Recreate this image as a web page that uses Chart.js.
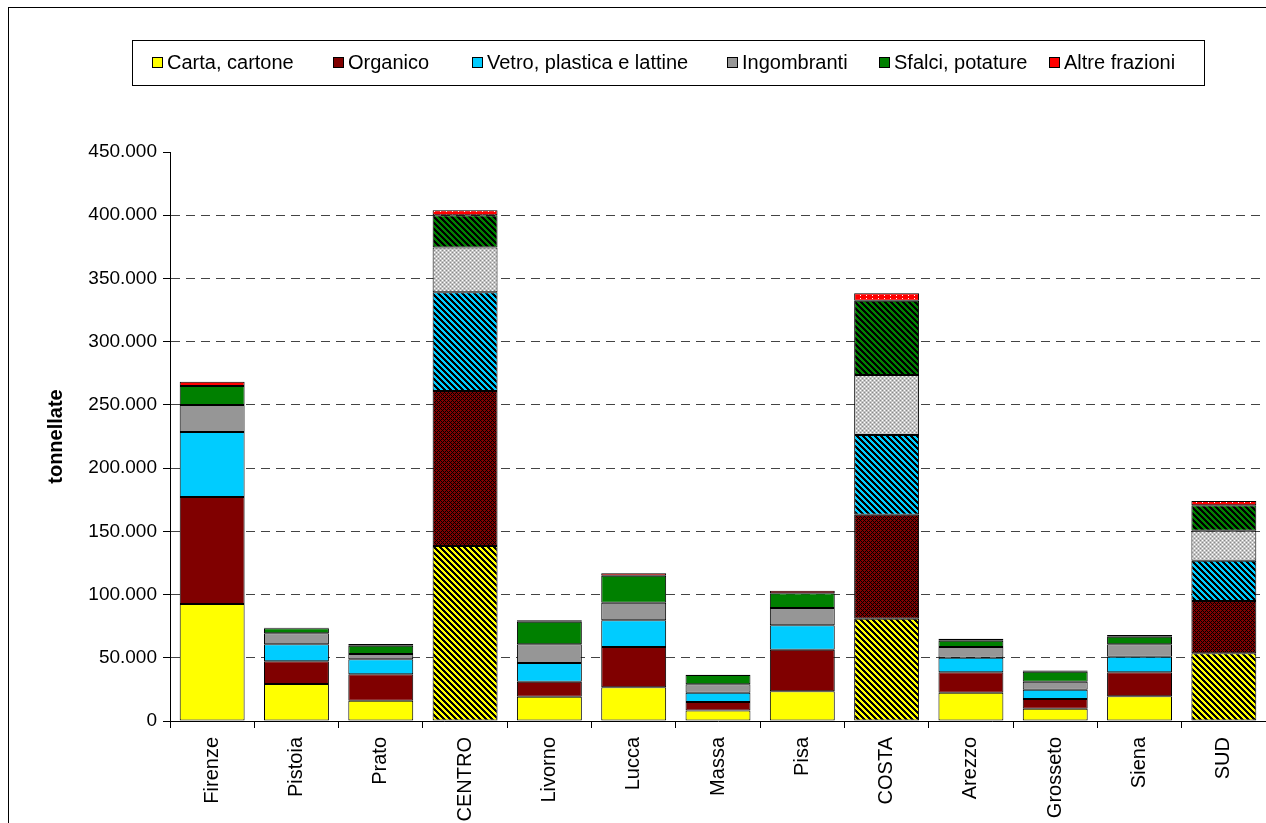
<!DOCTYPE html>
<html><head><meta charset="utf-8">
<script src="https://cdn.jsdelivr.net/npm/chart.js@4.4.0/dist/chart.umd.min.js"></script>
<style>html,body{margin:0;padding:0;background:#fff;overflow:hidden}</style>
</head><body>
<canvas id="c" width="1266" height="823"></canvas>
<script>
const categories = ['Firenze','Pistoia','Prato','CENTRO','Livorno','Lucca','Massa','Pisa','COSTA','Arezzo','Grosseto','Siena','SUD'];
const seriesNames = ['Carta, cartone','Organico','Vetro, plastica e lattine','Ingombranti','Sfalci, potature','Altre frazioni'];
const carta       = [92500, 29300, 16100, 138400, 19200, 26600, 8400, 23500, 80900, 22400, 9700, 19500, 53500];
const organico    = [84700, 17900, 20800, 122600, 11900, 31900, 6600, 32900, 82300, 16100, 7700, 19000, 41400];
const vetro       = [51400, 13500, 11900, 78000, 14800, 21100, 7400, 19300, 63000, 11600, 7400, 12400, 31900];
const ingombranti = [21400, 8700, 4200, 35500, 14800, 14000, 6600, 13700, 47500, 8400, 6300, 9800, 23700];
const sfalci      = [15000, 3900, 6600, 25500, 17800, 21300, 7400, 11600, 58700, 5000, 7900, 6000, 20100];
const altre       = [3300, 500, 1300, 4000, 1100, 1900, 200, 2100, 5900, 1500, 1000, 1300, 3400];
const yMin = 0, yMax = 450000, yStep = 50000;
const totalsIdx = [3, 8, 12];

const colors = ['#FFFF00','#800000','#00CCFF','#969696','#008000','#FF0000'];
const FONT = '"Liberation Sans", Arial, sans-serif';

const canvas = document.getElementById('c');
const mainCtx = canvas.getContext('2d');

function hex(c){ c=c.replace('#',''); return [parseInt(c.substr(0,2),16),parseInt(c.substr(2,2),16),parseInt(c.substr(4,2),16)]; }
function makePattern(w, h, fn){
  const c = document.createElement('canvas'); c.width = w; c.height = h;
  const x = c.getContext('2d'); const img = x.createImageData(w, h);
  for (let j=0;j<h;j++) for (let i=0;i<w;i++){
    const col = hex(fn(i,j)); const k=(j*w+i)*4;
    img.data[k]=col[0]; img.data[k+1]=col[1]; img.data[k+2]=col[2]; img.data[k+3]=255;
  }
  x.putImageData(img,0,0);
  return mainCtx.createPattern(c,'repeat');
}
const stripe = (col) => makePattern(6, 6, (i,j) => (((i - j) % 6) + 6) % 6 < 3 ? '#000000' : col);
const patterns = [
  stripe('#FFFF00'),
  makePattern(4, 4, (i,j) => ((i+j)%4===0 || ((i-j+4)%4)===0) ? '#000000' : '#800000'),
  stripe('#00CCFF'),
  makePattern(4, 4, (i,j) => {
    if ((i%4===0 && j%4===0) || (i%4===2 && j%4===2)) return '#8a8a8a';
    if ((i%4===2 && j%4===0) || (i%4===0 && j%4===2)) return '#ffffff';
    return '#c4c4c4';
  }),
  stripe('#008000'),
  makePattern(6, 3, (i,j) => (i===2 && j===1) ? '#ffffff' : '#FF0000')
];

const seriesData = [carta, organico, vetro, ingombranti, sfalci, altre];
const datasets = seriesData.map((d, s) => ({
  label: seriesNames[s],
  data: d,
  backgroundColor: (ctx) => totalsIdx.includes(ctx.dataIndex) ? patterns[s] : colors[s],
  borderColor: '#000000',
  borderWidth: 1,
  borderSkipped: false,
  barPercentage: 0.77,
  categoryPercentage: 1.0
}));

const fmt = v => String(v).replace(/\B(?=(\d{3})+(?!\d))/g, '.');

const framePlugin = {
  id: 'frame',
  beforeDraw(chart){
    const c = chart.ctx;
    c.save(); c.fillStyle = '#fff'; c.fillRect(0,0,chart.width,chart.height);
    c.strokeStyle = '#000'; c.lineWidth = 1; c.strokeRect(8.5, 7.5, 1400, 1000);
    c.restore();
  },
  afterDraw(chart){
    const c = chart.ctx;
    c.save();
    c.strokeStyle = '#000'; c.lineWidth = 1;
    c.strokeRect(132.5, 40.5, 1072, 45);
    const xs = [152, 333, 472, 727, 879, 1049];
    c.font = '20px ' + FONT; c.textBaseline = 'middle'; c.fillStyle = '#000';
    seriesNames.forEach((n, i) => {
      c.fillStyle = colors[i];
      c.fillRect(xs[i]+0.5, 57.5, 10, 10);
      c.strokeStyle = '#000'; c.strokeRect(xs[i]+0.5, 57.5, 10, 10);
      c.fillStyle = '#000';
      c.fillText(n, xs[i] + 15, 63);
    });
    c.restore();
  }
};

new Chart(canvas, {
  type: 'bar',
  data: { labels: categories, datasets },
  plugins: [framePlugin],
  options: {
    responsive: false, animation: false, devicePixelRatio: 1,
    layout: { padding: { top: 152, left: 0, right: 0, bottom: 0 } },
    plugins: { legend: { display: false }, tooltip: { enabled: false } },
    scales: {
      x: {
        stacked: true, offset: true,
        grid: { display: true, offset: true, drawOnChartArea: false, drawTicks: true, tickLength: 7, color: '#000', tickColor: '#000' },
        border: { display: true, color: '#000', width: 1 },
        ticks: { minRotation: 90, maxRotation: 90, autoSkip: false, padding: 9, color: '#000', font: { family: FONT, size: 20 } },
        afterFit: s => { s.height = 102; }
      },
      y: {
        stacked: true, min: yMin, max: yMax,
        ticks: { stepSize: yStep, padding: 6, color: '#000', font: { family: FONT, size: 19 }, callback: v => fmt(v) },
        grid: { color: ctx => (ctx.tick && (ctx.tick.value === yMin || ctx.tick.value === yMax)) ? 'rgba(0,0,0,0)' : '#444444', lineWidth: 1, drawTicks: true, tickLength: 7, tickColor: '#000', tickBorderDash: [] },
        border: { display: true, color: '#000', width: 1, dash: [9, 6] },
        title: { display: true, text: 'tonnellate', color: '#000', font: { family: FONT, size: 20, weight: 'bold' }, padding: { top: 44, bottom: 0 } },
        afterFit: s => { s.width = 170; }
      }
    }
  }
});
</script>
</body></html>
